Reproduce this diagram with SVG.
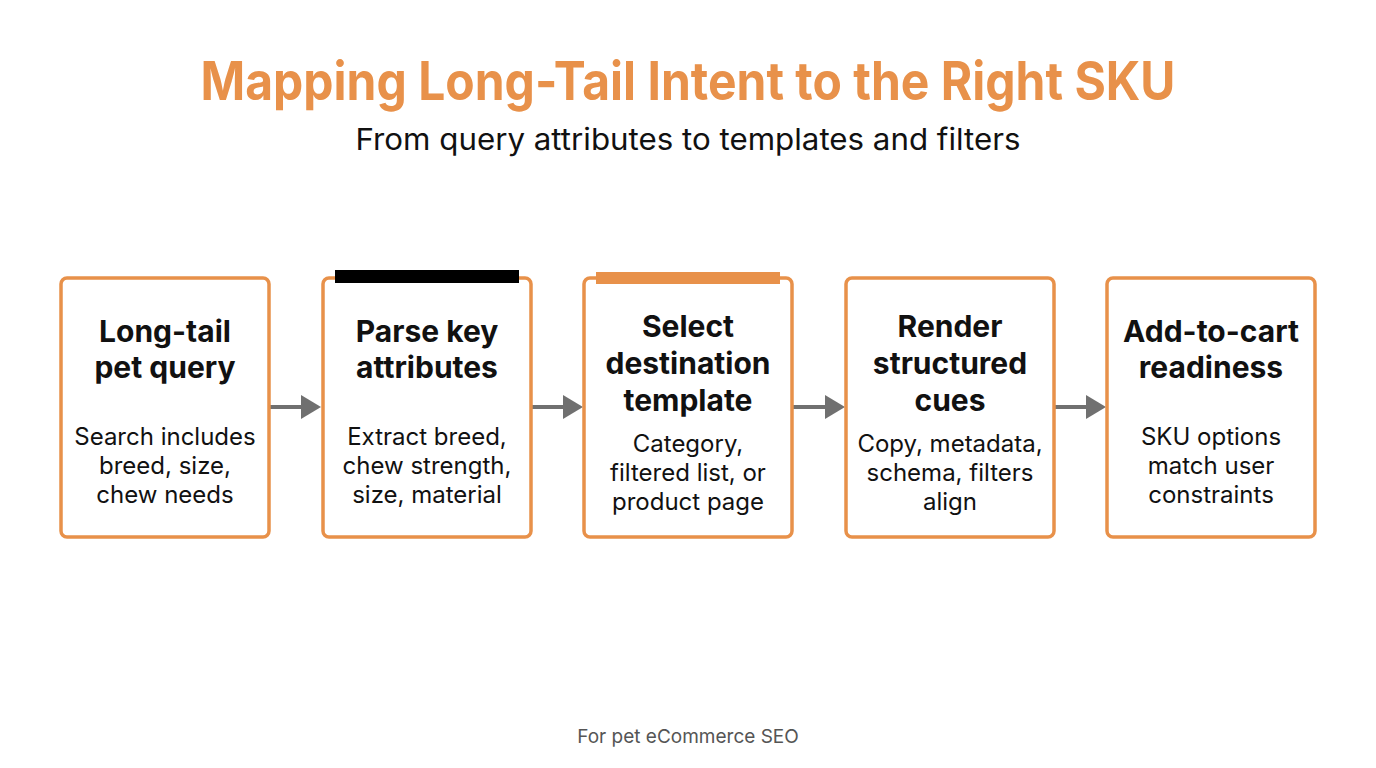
<svg xmlns="http://www.w3.org/2000/svg" width="1376" height="768" viewBox="0 0 1376 768">
<style>
.box{fill:#fff;stroke:#E8914A;stroke-width:3.5}
.t{font-family:Inter,"Liberation Sans",sans-serif;font-weight:700;font-size:30px;fill:#111;text-anchor:middle}
.b{font-family:Inter,"Liberation Sans",sans-serif;font-size:24px;fill:#111;text-anchor:middle}
.conn line{stroke:#707070;stroke-width:4}
</style>
<defs>
<marker id="ah" markerWidth="6" markerHeight="6" refX="0" refY="3" orient="auto" markerUnits="strokeWidth">
<path d="M0,0 L5,3 L0,6 Z" fill="#707070"/>
</marker>
</defs>
<rect width="1376" height="768" fill="#fff"/>
<text x="688" y="100" font-family="Inter,'Liberation Sans',sans-serif" font-weight="700" font-size="53" fill="#E8914A" text-anchor="middle" textLength="975" lengthAdjust="spacingAndGlyphs">Mapping Long-Tail Intent to the Right SKU</text>
<text x="688" y="150" font-family="Inter,'Liberation Sans',sans-serif" font-size="30" fill="#111" text-anchor="middle" textLength="665" lengthAdjust="spacingAndGlyphs">From query attributes to templates and filters</text>
<g class="conn">
<line x1="270" y1="407" x2="301" y2="407" marker-end="url(#ah)"/>
<line x1="532" y1="407" x2="563" y2="407" marker-end="url(#ah)"/>
<line x1="793" y1="407" x2="825" y2="407" marker-end="url(#ah)"/>
<line x1="1055" y1="407" x2="1086" y2="407" marker-end="url(#ah)"/>
</g>
<g id="n1">
<rect class="box" x="61" y="278" width="208" height="259" rx="6"/>
<text class="t" x="165" y="342">Long-tail</text>
<text class="t" x="165" y="378">pet query</text>
<text class="b" x="165" y="445">Search includes</text>
<text class="b" x="165" y="474">breed, size,</text>
<text class="b" x="165" y="503">chew needs</text>
</g>
<g id="n2">
<rect class="box" x="323" y="278" width="208" height="259" rx="6"/>
<rect x="335" y="270" width="184" height="13" fill="#000"/>
<text class="t" x="427" y="342">Parse key</text>
<text class="t" x="427" y="378">attributes</text>
<text class="b" x="427" y="445">Extract breed,</text>
<text class="b" x="427" y="474">chew strength,</text>
<text class="b" x="427" y="503">size, material</text>
</g>
<g id="n3">
<rect class="box" x="584" y="278" width="208" height="259" rx="6"/>
<rect x="596" y="272" width="184" height="12" fill="#E8914A"/>
<text class="t" x="688" y="337">Select</text>
<text class="t" x="688" y="374">destination</text>
<text class="t" x="688" y="411">template</text>
<text class="b" x="688" y="452">Category,</text>
<text class="b" x="688" y="481">filtered list, or</text>
<text class="b" x="688" y="510">product page</text>
</g>
<g id="n4">
<rect class="box" x="846" y="278" width="208" height="259" rx="6"/>
<text class="t" x="950" y="337">Render</text>
<text class="t" x="950" y="374">structured</text>
<text class="t" x="950" y="411">cues</text>
<text class="b" x="950" y="452">Copy, metadata,</text>
<text class="b" x="950" y="481">schema, filters</text>
<text class="b" x="950" y="510">align</text>
</g>
<g id="n5">
<rect class="box" x="1107" y="278" width="208" height="259" rx="6"/>
<text class="t" x="1211" y="342">Add-to-cart</text>
<text class="t" x="1211" y="378">readiness</text>
<text class="b" x="1211" y="445">SKU options</text>
<text class="b" x="1211" y="474">match user</text>
<text class="b" x="1211" y="503">constraints</text>
</g>
<text x="688" y="743" font-family="Inter,'Liberation Sans',sans-serif" font-size="19" fill="#555" text-anchor="middle">For pet eCommerce SEO</text>
</svg>
